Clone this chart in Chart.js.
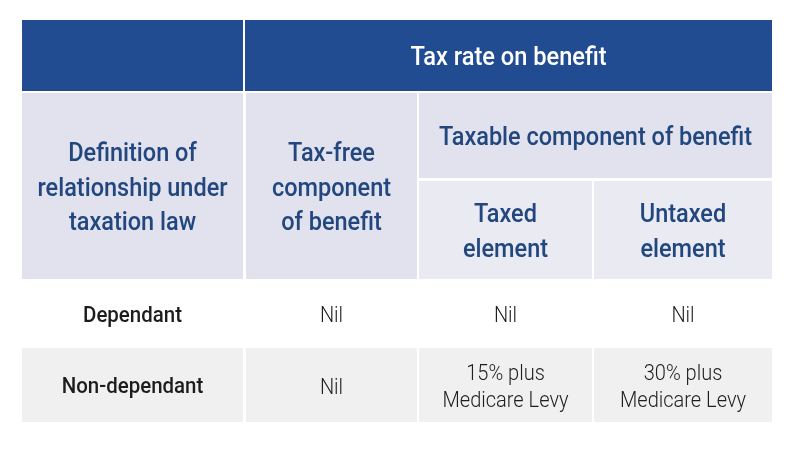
<!DOCTYPE html>
<html>
<head>
<meta charset="utf-8">
<script src="https://cdn.jsdelivr.net/npm/chart.js@4/dist/chart.umd.min.js"></script>
<style>
  html, body { margin: 0; padding: 0; background: #ffffff; }
  #wrap { width: 800px; height: 450px; }
</style>
</head>
<body>
<div id="wrap"><canvas id="c" width="800" height="450"></canvas></div>
<script>
// ---- DATA (text content of the table) ----
const groupHeader = 'Tax rate on benefit';
const rowHeader = ['Definition of', 'relationship under', 'taxation law'];
const taxFreeHeader = ['Tax-free', 'component', 'of benefit'];
const taxableHeader = ['Taxable component of benefit'];
const taxedHeader = ['Taxed', 'element'];
const untaxedHeader = ['Untaxed', 'element'];
const categories = ['Dependant', 'Non-dependant'];
const taxFreeValues = ['Nil', 'Nil'];
const taxedValues = ['Nil', '15% plus\nMedicare Levy'];
const untaxedValues = ['Nil', '30% plus\nMedicare Levy'];

// ---- LAYOUT (grid in scale units) ----
const colX = [22, 244, 246, 417, 419, 592, 594, 772];   // left/right edges of the four columns
const rowY = {
  head1: [20, 91],
  head2: [93, 279],
  sub1: [93, 178],
  sub2: [181, 279],
  body: [[279, 348], [348, 422]]
};
const COLORS = {
  blue: '#214c92',
  lavender: '#e1e2ee',
  lavenderLight: '#e9eaf2',
  white: '#ffffff',
  gray: '#f0f0f0',
  headText: '#22477f',
  bodyText: '#1c1c1c',
  valText: '#1e1e1e'
};
const STYLE = {
  white:  { font: '500 25px Roboto, "Liberation Sans", sans-serif', size: 25, color: '#ffffff', sx: 0.945, lh: 34.5, dy: 0.5 },
  head:   { font: '500 25px Roboto, "Liberation Sans", sans-serif', size: 25, color: COLORS.headText, sx: 0.94, lh: 34.5, dy: 0.7 },
  label:  { font: '500 22px Roboto, "Liberation Sans", sans-serif', size: 22, color: COLORS.bodyText, sx: 0.93, lh: 27, dy: 0.5 },
  value:  { font: '300 22px Roboto, "Liberation Sans", sans-serif', size: 22, color: COLORS.valText, sx: 0.91, lh: 27, dy: 0.8 }
};

function buildCells() {
  const c = colX;
  const cells = [];
  cells.push({ x: [c[0], 243], y: rowY.head1, fill: COLORS.blue, text: [], st: STYLE.white });
  cells.push({ x: [245, c[7]], y: rowY.head1, fill: COLORS.blue, text: [groupHeader], st: STYLE.white });
  cells.push({ x: [c[0], 243], y: rowY.head2, fill: COLORS.lavender, text: rowHeader, st: STYLE.head });
  cells.push({ x: [c[2], c[3]], y: rowY.head2, fill: COLORS.lavender, text: taxFreeHeader, st: STYLE.head });
  cells.push({ x: [c[4], c[7]], y: rowY.sub1, fill: COLORS.lavender, text: taxableHeader, st: STYLE.head });
  cells.push({ x: [c[4], c[5]], y: rowY.sub2, fill: COLORS.lavenderLight, text: taxedHeader, st: STYLE.head });
  cells.push({ x: [c[6], c[7]], y: rowY.sub2, fill: COLORS.lavenderLight, text: untaxedHeader, st: STYLE.head });
  categories.forEach((cat, i) => {
    const fill = i % 2 === 0 ? COLORS.white : COLORS.gray;
    const y = rowY.body[i];
    cells.push({ x: [c[0], 243], y, fill, text: cat.split('\n'), st: STYLE.label });
    cells.push({ x: [c[2], c[3]], y, fill, text: taxFreeValues[i].split('\n'), st: STYLE.value });
    cells.push({ x: [c[4], c[5]], y, fill, text: taxedValues[i].split('\n'), st: STYLE.value });
    cells.push({ x: [c[6], c[7]], y, fill, text: untaxedValues[i].split('\n'), st: STYLE.value });
  });
  return cells;
}

const tablePlugin = {
  id: 'tablePlugin',
  beforeDatasetsDraw(chart) {
    const ctx = chart.ctx;
    const xs = chart.scales.x, ys = chart.scales.y;
    buildCells().forEach(cell => {
      const x0 = xs.getPixelForValue(cell.x[0]), x1 = xs.getPixelForValue(cell.x[1]);
      const y0 = ys.getPixelForValue(cell.y[0]), y1 = ys.getPixelForValue(cell.y[1]);
      ctx.save();
      ctx.fillStyle = cell.fill;
      ctx.fillRect(x0, y0, x1 - x0, y1 - y0);
      const st = cell.st;
      ctx.font = st.font;
      ctx.fillStyle = st.color;
      ctx.textAlign = 'center';
      ctx.textBaseline = 'alphabetic';
      const cx = (x0 + x1) / 2, cy = (y0 + y1) / 2;
      const n = cell.text.length;
      const cap = st.size * 0.711;
      cell.text.forEach((line, i) => {
        const by = cy + (i - (n - 1) / 2) * st.lh + cap / 2 + st.dy;
        ctx.save();
        ctx.translate(cx, by);
        ctx.scale(st.sx, 1);
        ctx.fillText(line, 0, 0);
        ctx.restore();
      });
      ctx.restore();
    });
  }
};

new Chart(document.getElementById('c'), {
  type: 'scatter',
  data: { datasets: [{ data: [], pointRadius: 0 }] },
  options: {
    responsive: false,
    animation: false,
    events: [],
    layout: { padding: 0 },
    plugins: { legend: { display: false }, tooltip: { enabled: false }, title: { display: false } },
    scales: {
      x: { type: 'linear', min: 0, max: 800, display: false },
      y: { type: 'linear', min: 0, max: 450, reverse: true, display: false }
    }
  },
  plugins: [tablePlugin]
});
</script>
</body>
</html>
